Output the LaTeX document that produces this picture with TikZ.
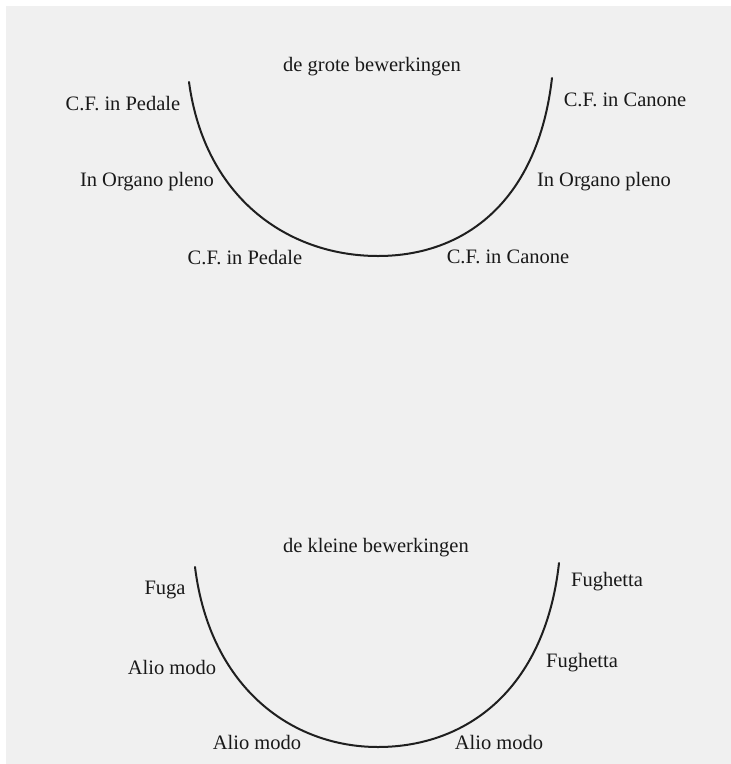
\documentclass[tikz,border=0pt]{standalone}
\usepackage{fontspec}
\setmainfont{Liberation Serif}
\tikzset{
  lbl/.style={font=\fontsize{20.5}{24}\selectfont,text=black!90,inner sep=0pt},
  bowl/.style={draw=black!88,line width=2pt,line cap=round}
}
\begin{document}
\begin{tikzpicture}[x=1pt,y=-1pt]
  \useasboundingbox (0,0) rectangle (731,764);
  \fill[white] (0,0) rectangle (731,764);
  \fill[black!6] (6,6) rectangle (731,764);
  % de grote bewerkingen
  \coordinate (gl) at (189,82);
  \coordinate (gb) at (378,256);
  \coordinate (gr) at (552,78);
  \draw[bowl] (gl) .. controls (205,200) and (290,256) .. (gb)
    .. controls (466,256) and (538,200) .. (gr);
  \node[lbl] (gtitle) at (372,67) {de grote bewerkingen};
  \node[lbl] (gped1) at (123,104) {C.F. in Pedale};
  \node[lbl] (gcan1) at (625,100) {C.F. in Canone};
  \node[lbl] (gorg1) at (147,182) {In Organo pleno};
  \node[lbl] (gorg2) at (604,182) {In Organo pleno};
  \node[lbl] (gped2) at (245,258) {C.F. in Pedale};
  \node[lbl] (gcan2) at (508,257) {C.F. in Canone};
  % de kleine bewerkingen
  \coordinate (kl) at (195,567);
  \coordinate (kb) at (378,747);
  \coordinate (kr) at (559,563);
  \draw[bowl] (kl) .. controls (210,688) and (292,747) .. (kb)
    .. controls (466,747) and (545,690) .. (kr);
  \node[lbl] (ktitle) at (376,548) {de kleine bewerkingen};
  \node[lbl] (kfuga) at (165,590) {Fuga};
  \node[lbl] (kfgh1) at (607,582) {Fughetta};
  \node[lbl] (kalio1) at (172,667) {Alio modo};
  \node[lbl] (kfgh2) at (582,663) {Fughetta};
  \node[lbl] (kalio2) at (257,742) {Alio modo};
  \node[lbl] (kalio3) at (499,742) {Alio modo};
\end{tikzpicture}
\end{document}
